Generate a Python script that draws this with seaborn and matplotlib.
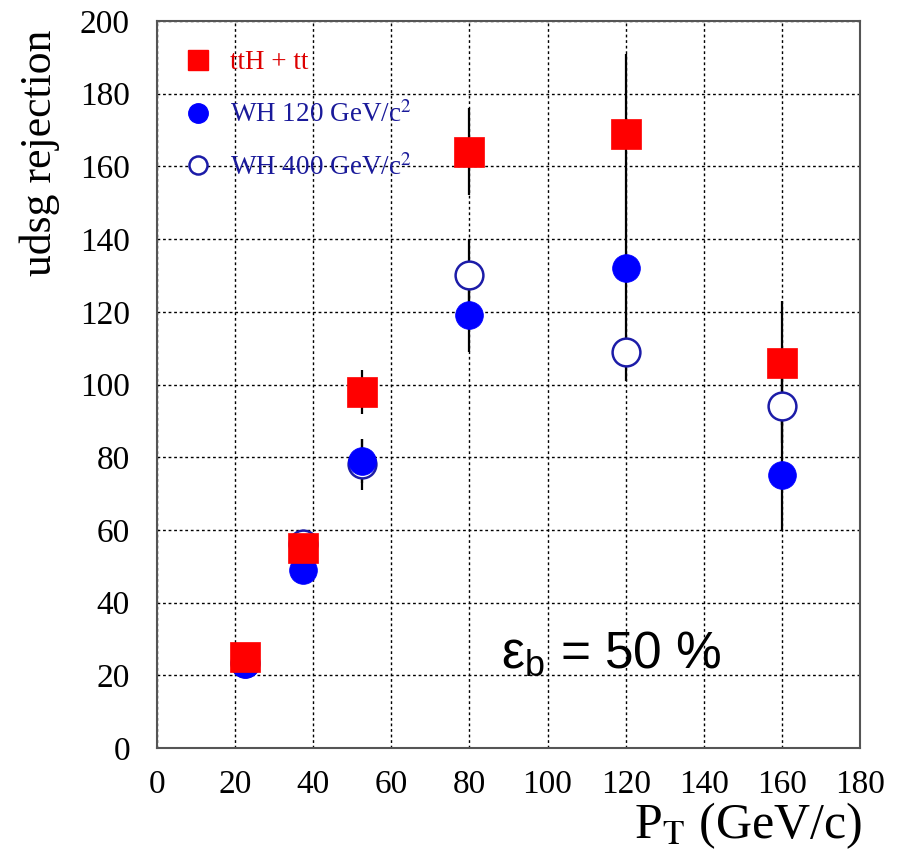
import matplotlib
matplotlib.use('Agg')
import matplotlib.pyplot as plt
import pandas as pd
import seaborn as sns
from matplotlib.lines import Line2D

# data
pt_bins = [22.5, 37.5, 52.5, 80, 120, 160]
tth_rejection = [25, 55, 98, 164, 169, 106]
tth_error = [0, 0, 6, 12, 22, 17]
wh120_rejection = [23, 49, 79, 119, 132, 75]
wh120_error = [0, 0, 6, 10, 15, 15]
wh400_rejection = [23.5, 56, 78, 130, 109, 94]
wh400_error = [0, 0, 7, 10, 8, 10]

x_ticks = [0, 20, 40, 60, 80, 100, 120, 140, 160, 180]
y_ticks = [0, 20, 40, 60, 80, 100, 120, 140, 160, 180, 200]

sns.set_theme(style='white')
plt.rcParams['font.family'] = ['Liberation Serif', 'DejaVu Serif']
plt.rcParams['mathtext.fontset'] = 'stix'
plt.rcParams['text.color'] = 'black'

fig = plt.figure(figsize=(9.03, 8.61), dpi=100)
ax = fig.add_axes([0.1739, 0.1312, 0.7784, 0.8444])

tth_df = pd.DataFrame({'pt': pt_bins, 'rej': tth_rejection, 'err': tth_error})
wh120_df = pd.DataFrame({'pt': pt_bins, 'rej': wh120_rejection, 'err': wh120_error})
wh400_df = pd.DataFrame({'pt': pt_bins, 'rej': wh400_rejection, 'err': wh400_error})

# error bars first, markers on top
for df in [wh400_df, wh120_df, tth_df]:
    ax.errorbar(df['pt'], df['rej'], yerr=df['err'], fmt='none',
                ecolor='black', elinewidth=1.6, capsize=0, zorder=2)

sns.scatterplot(x='pt', y='rej', data=wh400_df, marker='o', s=400,
                facecolor='white', edgecolor='#1c1ca8', linewidth=1.8,
                ax=ax, zorder=3, legend=False)
sns.scatterplot(x='pt', y='rej', data=wh120_df, marker='o', s=400,
                color='#0000ff', edgecolor='#0000ff', linewidth=0.5,
                ax=ax, zorder=4, legend=False)
sns.scatterplot(x='pt', y='rej', data=tth_df, marker='s', s=470,
                color='#ff0000', edgecolor='#ff0000', linewidth=0.5,
                ax=ax, zorder=5, legend=False)

ax.set_xlim(0, 180)
ax.set_ylim(0, 200)
ax.set_xticks(x_ticks)
ax.set_yticks(y_ticks)
ax.tick_params(direction='out', length=8.5, width=1, colors='#333333',
               labelsize=24, labelcolor='black')
ax.tick_params(axis='y', pad=11)
ax.tick_params(axis='x', pad=7)
ax.grid(True, ls=(0, (2, 2)), color='black', lw=1)
ax.set_axisbelow(True)
for sp in ax.spines.values():
    sp.set_color('#555555')
    sp.set_linewidth(1.5)

ax.set_xlabel('')
ax.set_ylabel('')
fig.text(0.955, 0.026, r'P$_\mathrm{T}$ (GeV/c)', fontsize=36,
         ha='right', va='baseline')
fig.text(0.044, 0.966, 'udsg rejection', fontsize=31.5, rotation=90,
         ha='center', va='top')

# efficiency label
ax.text(0.49, 0.11, r'$\mathregular{\varepsilon_b}$ = 50 %', transform=ax.transAxes,
        fontsize=37, family=['Liberation Sans', 'DejaVu Sans'],
        ha='left', va='baseline', color='black')

handles = [
    Line2D([], [], marker='s', ls='none', color='#ff0000', markersize=14),
    Line2D([], [], marker='o', ls='none', color='#0000ff', markersize=14),
    Line2D([], [], marker='o', ls='none', markerfacecolor='white',
           markeredgecolor='#1c1ca8', markeredgewidth=1.8, markersize=13),
]
labels = ['ttH + tt', r'WH 120 GeV/c$^2$', r'WH 400 GeV/c$^2$']
ax.legend(handles, labels, loc='upper left', bbox_to_anchor=(0.0, 0.993),
          frameon=False, fontsize=19.5, labelspacing=0.95, handletextpad=0.6,
          handlelength=1.2, labelcolor=['#dd0000', '#1a1a9a', '#1a1a9a'])

plt.savefig('out.png', dpi=100)
